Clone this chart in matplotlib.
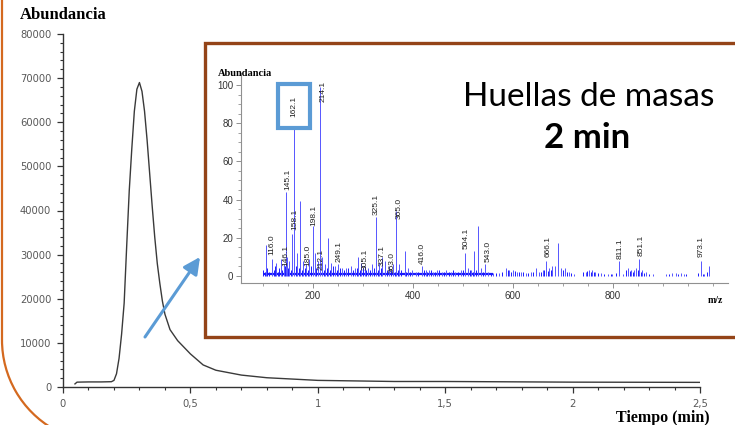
import matplotlib
matplotlib.use("Agg")
import matplotlib.pyplot as plt
from matplotlib.patches import Rectangle, Arc
from matplotlib.ticker import MultipleLocator

# --- Chromatogram (main plot) ---
time_min = [0.047, 0.055, 0.10, 0.15, 0.19, 0.20, 0.21, 0.22, 0.23, 0.24,
            0.25, 0.26, 0.27, 0.28, 0.29, 0.30, 0.31, 0.32, 0.33, 0.34,
            0.35, 0.36, 0.37, 0.38, 0.39, 0.40, 0.42, 0.45, 0.50, 0.55,
            0.60, 0.70, 0.80, 1.00, 1.30, 1.50, 2.00, 2.50]
abundance = [700, 1100, 1150, 1150, 1200, 1500, 3000, 6500, 12000, 19000,
             32000, 44500, 54000, 62500, 67500, 69000, 67000, 62500, 56000, 48500,
             41000, 34000, 28000, 23500, 19500, 16500, 13000, 10500, 7500, 5000,
             3800, 2700, 2100, 1500, 1250, 1250, 1100, 1050]
x_ticks = [0, 0.5, 1, 1.5, 2, 2.5]
x_tick_labels = ["0", "0,5", "1", "1,5", "2", "2,5"]

# --- Mass spectrum (inset) ---
peak_mz = [106, 118, 126, 135, 141, 145, 148, 152, 158, 162,
           168, 174, 180, 186, 192, 199, 203, 210, 214, 218,
           224, 230, 236, 244, 250, 258, 266, 275, 284, 290,
           296, 303, 310, 318, 326, 332, 338, 344, 352, 360,
           366, 372, 383, 390, 398, 405, 417, 425, 432, 440,
           448, 458, 466, 476, 484, 495, 504, 510, 516, 522,
           529, 535, 544, 550, 560, 572, 585, 592, 600, 607,
           615, 625, 635, 645, 652, 660, 666, 672, 678, 684,
           689, 695, 704, 712, 722, 745, 752, 758, 764, 775,
           790, 798, 812, 820, 830, 836, 842, 846, 852, 858,
           865, 880, 905, 918, 925, 935, 942, 975, 982, 992]
peak_h = [16, 9, 7, 9, 6, 44, 10, 8, 22, 100,
          12, 39, 8, 6, 9, 26, 12, 8, 99, 10,
          6, 20, 7, 5, 6, 4, 4, 5, 4, 10,
          7, 5, 4, 6, 31, 7, 10, 8, 5, 6,
          34, 6, 13, 4, 3, 2, 5, 3, 3, 2,
          3, 2, 3, 2, 2, 3, 12, 4, 3, 13,
          26, 4, 6, 2, 1.5, 1.5, 4, 3, 3, 2,
          2, 1.5, 2, 4, 2, 3, 8, 4, 5, 5,
          17, 4, 4, 2, 1, 2, 3, 3, 2, 1.5,
          1, 1, 8, 1, 4, 3, 3, 4, 9, 3,
          2, 1, 1, 1.5, 1.5, 1.5, 1, 8, 1, 5]
noise_mz = [100, 103, 108, 111, 121, 124, 129, 132, 138, 143,
            150, 155, 165, 171, 177, 183, 189, 195, 206, 221,
            227, 233, 240, 247, 253, 262, 270, 279, 287, 293,
            299, 306, 314, 322, 329, 335, 348, 356, 363, 369,
            376, 386, 394, 410, 421, 428, 436, 444, 452, 462,
            471, 480, 490, 499, 513, 519, 526, 540, 556, 566,
            578, 589, 596, 604, 612, 620, 630, 640, 656, 662,
            669, 675, 700, 708, 716, 740, 748, 756, 762, 770,
            782, 795, 806, 826, 833, 839, 849, 855, 862, 872,
            912, 930, 946, 970, 979, 988]
noise_h = [3, 2, 4, 2, 3, 5, 2, 4, 3, 5,
           4, 3, 5, 4, 3, 4, 3, 5, 4, 3,
           4, 3, 5, 3, 4, 3, 4, 3, 4, 3,
           4, 3, 3, 4, 3, 4, 3, 3, 2, 3,
           3, 2, 2, 2, 3, 2, 3, 2, 3, 2,
           2, 3, 2, 3, 3, 2, 3, 2, 1.5, 1.5,
           2, 3, 2, 2.5, 2, 2, 1.5, 2, 2, 3,
           2.5, 3, 3, 2, 1.5, 2, 2.5, 2, 2, 1.5,
           1, 1, 1.5, 3, 2.5, 2, 3, 2, 1.5, 1,
           1, 1, 1, 1.5, 1, 2]
baseline_range = [100, 560]

# peak labels: text, m/z position, bottom of the label (intensity units)
label_text = ["116.0", "145.1", "146.1", "158.1", "185.0", "198.1", "212.1",
              "214.1", "249.1", "305.1", "325.1", "337.1", "363.0", "365.0",
              "416.0", "504.1", "543.0", "666.1", "811.1", "851.1", "973.1"]
label_mz = [117, 150, 146, 164, 190, 202, 217, 220, 252, 304, 326, 339,
            359, 372, 418, 507, 550, 670, 815, 856, 977]
label_y = [11, 45, 5, 24, 5, 26, 3, 91, 7.5, 3, 32, 5, 1.4, 30, 6, 14,
           7.5, 10, 9, 10.5, 10]
base_label = "162.1"
base_mz = 162

W, H = 735, 425
fig = plt.figure(figsize=(W / 100, H / 100), dpi=100)

# main chromatogram axes
ax = fig.add_axes([63 / W, (H - 387) / H, 637 / W, 353 / H], zorder=1)
ax.plot(time_min, abundance, color="#3a3a3a", lw=1.0)
ax.set_xlim(0, 2.5)
ax.set_ylim(0, 80000)
ax.set_xticks(x_ticks)
ax.set_xticklabels(x_tick_labels)
ax.xaxis.set_minor_locator(MultipleLocator(0.1))
ax.yaxis.set_major_locator(MultipleLocator(10000))
ax.yaxis.set_minor_locator(MultipleLocator(2000))
for s in ["top", "right"]:
    ax.spines[s].set_visible(False)
for s in ["left", "bottom"]:
    ax.spines[s].set_color("#333333")
    ax.spines[s].set_linewidth(1.0)
ax.tick_params(which="major", length=4, width=0.9, color="#333333",
               labelsize=7.2, labelcolor="#595959", pad=4.5)
ax.tick_params(which="minor", length=2.5, width=0.8, color="#333333")
for lab in ax.get_xticklabels() + ax.get_yticklabels():
    lab.set_family("DejaVu Sans")

fig.text(20 / W, 1 - 15 / H, "Abundancia", family="Liberation Serif",
         weight="bold", fontsize=12, va="center", ha="left")
fig.text(710 / W, 1 - 418 / H, "Tiempo (min)", family="Liberation Serif",
         weight="bold", fontsize=11.5, va="center", ha="right")

# decoration layer in pixel coordinates
deco = fig.add_axes([0, 0, 1, 1], zorder=2)
deco.set_xlim(0, W)
deco.set_ylim(H, 0)
deco.axis("off")
deco.add_patch(Rectangle((205, 43), 545, 294, facecolor="white",
                         edgecolor="#944418", lw=2.4))
deco.plot([2, 2], [-5, 340], color="#d4691f", lw=1.6, solid_capstyle="butt")
deco.add_patch(Arc((104.8, 340), 205.6, 205.6, theta1=120, theta2=180,
                   color="#d4691f", lw=1.6))
deco.annotate("", xy=(200, 257), xytext=(145, 337),
              arrowprops=dict(arrowstyle="-|>,head_length=1.0,head_width=0.5",
                              color="#5b9bd5", lw=2.2, shrinkA=0, shrinkB=0))

# inset mass spectrum
ai = fig.add_axes([241 / W, (H - 283) / H, 487 / W, 210 / H], zorder=3)
ai.patch.set_alpha(0)
ai.set_xlim(56, 1030)
ai.set_ylim(-3.7, 106.3)
ai.vlines(noise_mz, 0, noise_h, color="#1a1aff", lw=0.7, zorder=2)
ai.hlines(1, baseline_range[0], baseline_range[1], color="#1a1aff", lw=1.6, zorder=2)
ai.vlines(peak_mz, 0, peak_h, color="#5555ff", lw=0.7, zorder=2)
ai.set_xticks([200, 400, 600, 800])
ai.xaxis.set_minor_locator(MultipleLocator(50))
ai.set_yticks([0, 20, 40, 60, 80, 100])
ai.yaxis.set_minor_locator(MultipleLocator(5))
for s in ["top", "right"]:
    ai.spines[s].set_visible(False)
for s in ["left", "bottom"]:
    ai.spines[s].set_color("#909090")
    ai.spines[s].set_linewidth(0.8)
ai.tick_params(which="major", length=3.5, width=0.7, color="#909090",
               labelsize=7, labelcolor="#333333", pad=2)
ai.tick_params(which="minor", length=2, width=0.6, color="#909090")
for lab in ai.get_xticklabels() + ai.get_yticklabels():
    lab.set_family("Liberation Sans")
for t, m, y in zip(label_text, label_mz, label_y):
    ai.text(m, y, t, rotation=90, ha="center", va="bottom", fontsize=6,
            family="Liberation Sans", color="#222222", zorder=4)
ai.add_patch(Rectangle((130, 77.5), 64, 23, facecolor="white",
                       edgecolor="#5b9bd5", lw=3, zorder=3, clip_on=False))
ai.text(base_mz, 89, base_label, rotation=90, ha="center", va="center",
        fontsize=6, family="Liberation Sans", color="#222222", zorder=4)
ai.text(-0.047, 0.975, "Abundancia", transform=ai.transAxes, family="Liberation Serif",
        weight="bold", fontsize=7.5, ha="left", va="bottom")
ai.text(0.975, -0.06, "m/z", transform=ai.transAxes, family="Liberation Serif",
        weight="bold", fontsize=7, ha="center", va="top")

fig.text(589 / W, 1 - 97 / H, "Huellas de masas", family="Lato", fontsize=24,
         ha="center", va="center", zorder=10)
fig.text(587 / W, 1 - 138 / H, "2 min", family="Lato", weight="bold",
         fontsize=25, ha="center", va="center", zorder=10)

fig.savefig("out.png", dpi=100)
